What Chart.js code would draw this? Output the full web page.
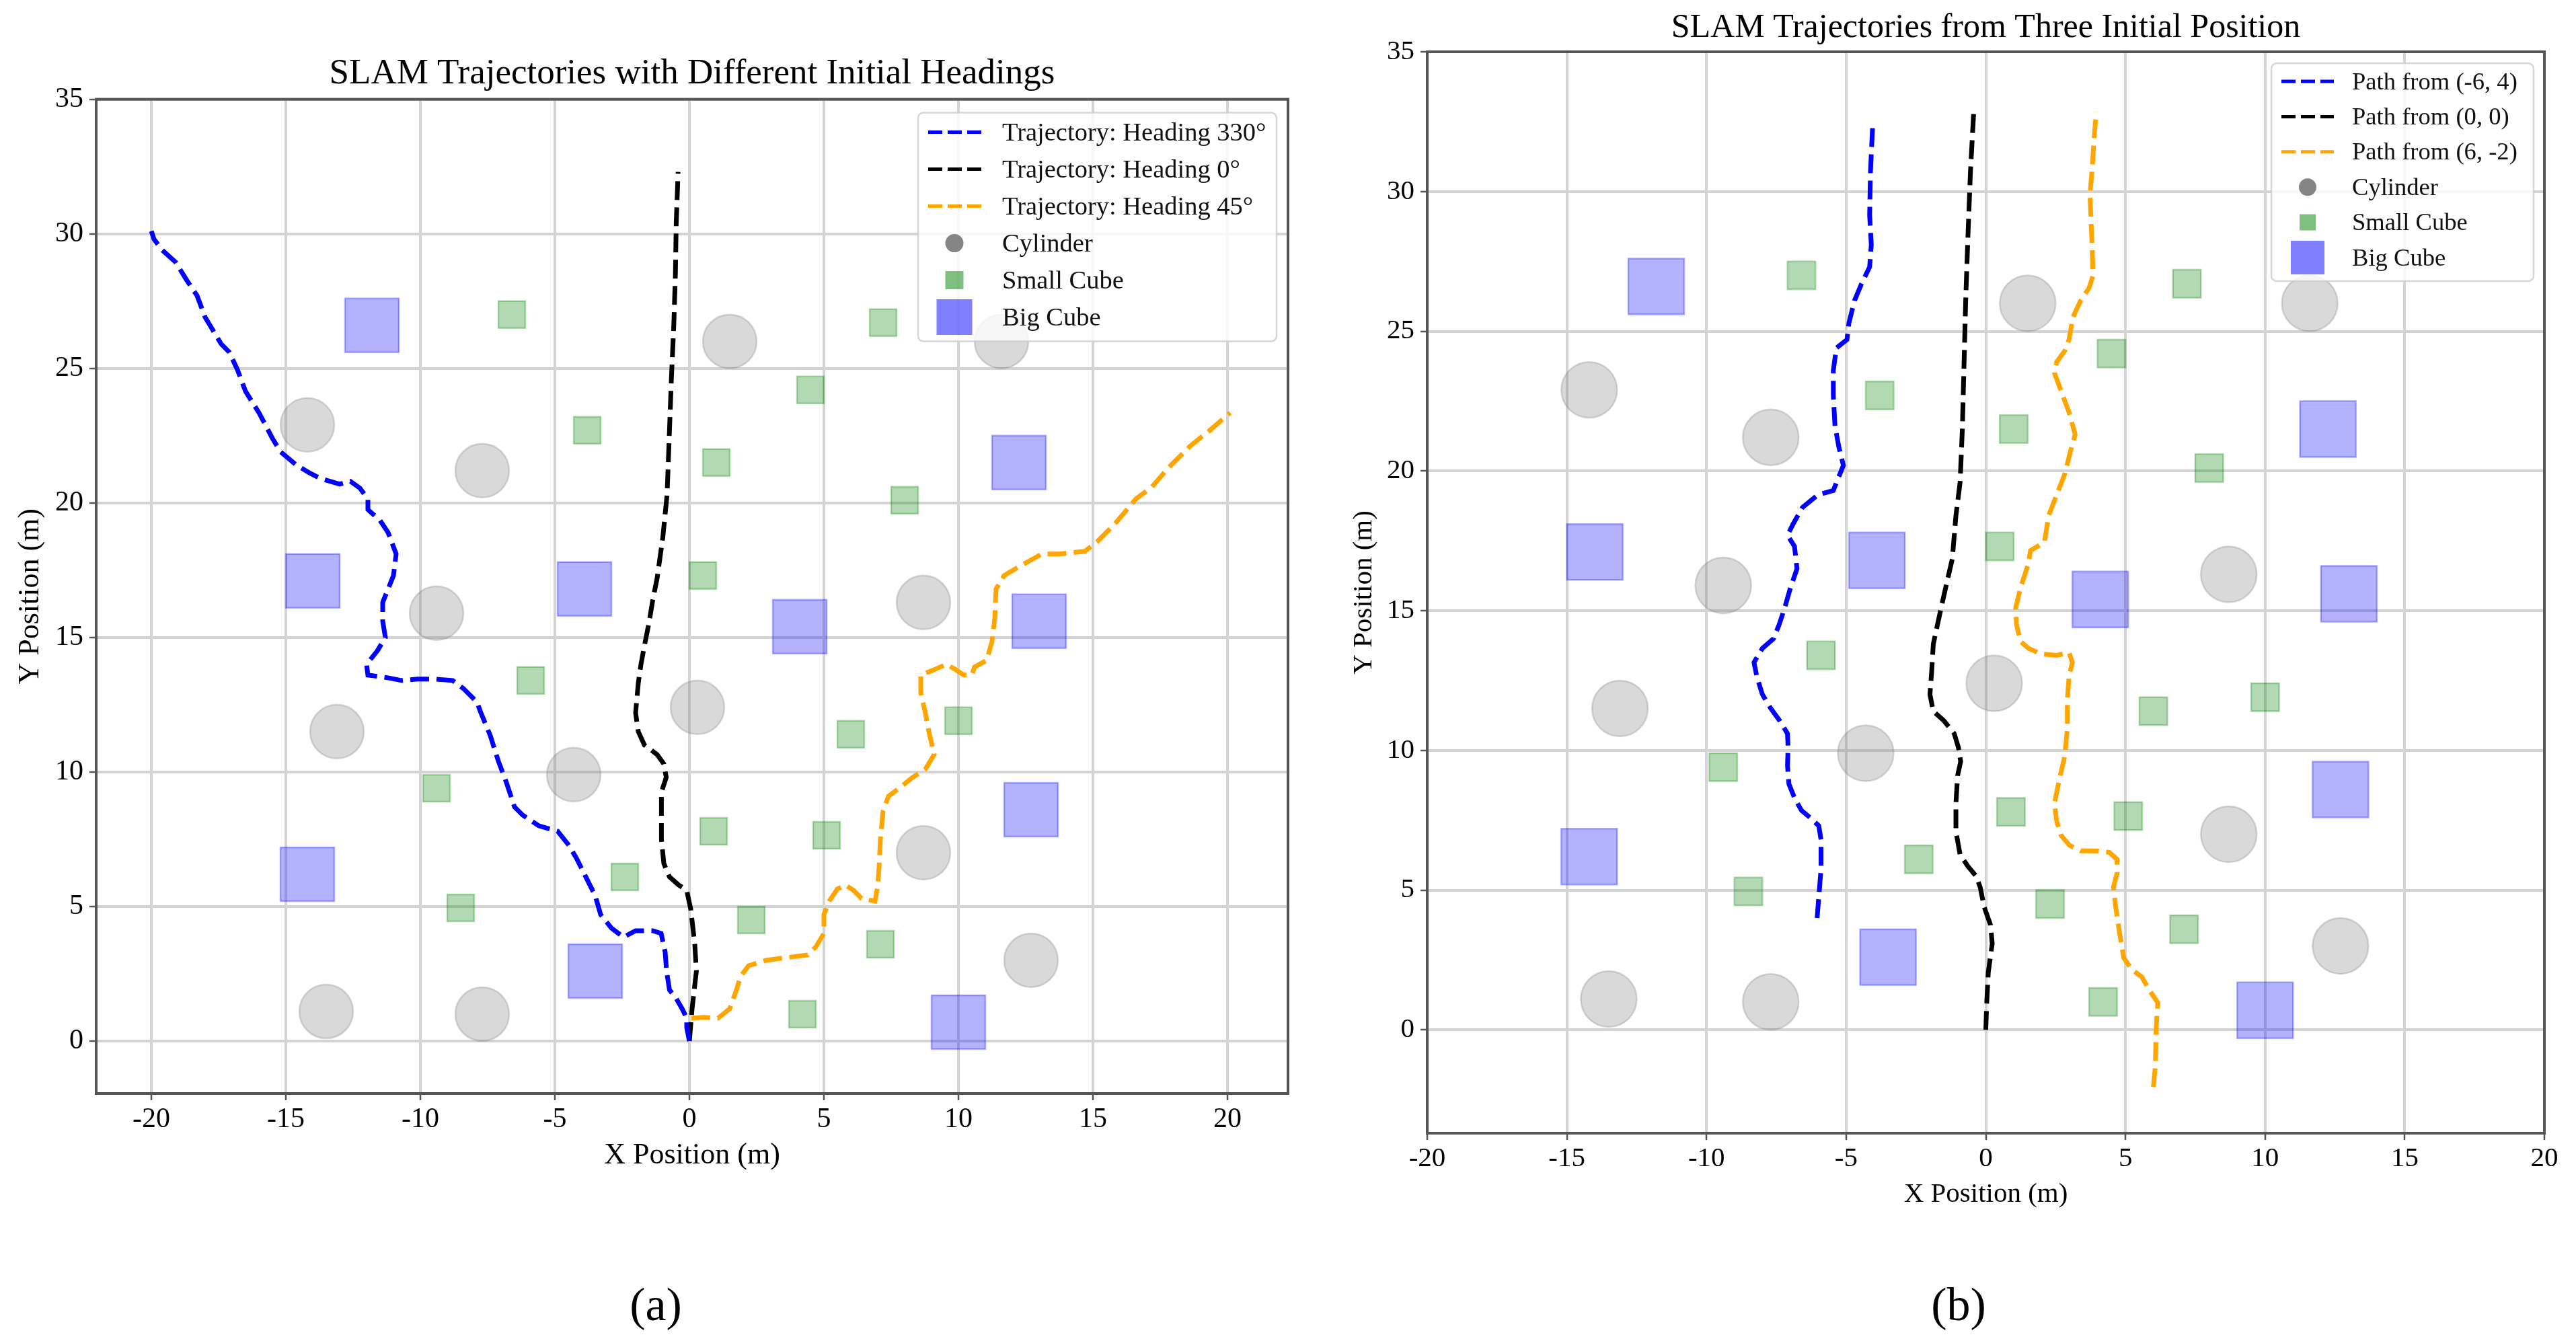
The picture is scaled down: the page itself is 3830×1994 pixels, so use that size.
<!DOCTYPE html>
<html>
<head>
<meta charset="utf-8">
<script src="https://cdn.jsdelivr.net/npm/chart.js@4.4.1/dist/chart.umd.min.js"></script>
<style>
  html, body { margin: 0; padding: 0; background: #fff; }
  body { width: 3830px; height: 1994px; position: relative; overflow: hidden; font-family: 'Liberation Serif', serif; }
  canvas { position: absolute; top: 0; }
  #chartA { left: 0; }
  #chartB { left: 1950px; }
  .cap { position: absolute; top: 1895px; width: 200px; text-align: center; font-size: 70px; line-height: 90px; color: #000; }
</style>
</head>
<body>
<canvas id="chartA" width="1950" height="1800"></canvas>
<canvas id="chartB" width="1880" height="1850"></canvas>
<div class="cap" style="left:875px">(a)</div>
<div class="cap" style="left:2812px">(b)</div>
<script>
// tick values shared by both panels
const xTicks = [-20, -15, -10, -5, 0, 5, 10, 15, 20];
const yTicks = [0, 5, 10, 15, 20, 25, 30, 35];

// obstacle centres (same map in both panels)
const cylinders = [[1.5, 26], [11.6, 26], [-14.2, 22.9], [-7.7, 21.2], [-9.4, 15.9], [8.7, 16.3],
  [-13.1, 11.5], [0.3, 12.4], [-4.3, 9.9], [8.7, 7.0], [12.7, 3.0], [-13.5, 1.1], [-7.7, 1.0]];
const smallCubes = [[-6.6, 27], [7.2, 26.7], [4.5, 24.2], [-3.8, 22.7], [1.0, 21.5], [8.0, 20.1],
  [0.5, 17.3], [-5.9, 13.4], [10.0, 11.9], [6.0, 11.4], [-9.4, 9.4], [0.9, 7.8], [5.1, 7.65],
  [-2.4, 6.1], [-8.5, 4.95], [2.3, 4.5], [7.1, 3.6], [4.2, 1.0]];
const bigCubes = [[-11.8, 26.6], [12.25, 21.5], [-14.0, 17.1], [-3.9, 16.8], [4.1, 15.4],
  [13.0, 15.6], [12.7, 8.6], [-14.2, 6.2], [-3.5, 2.6], [10.0, 0.7]];

// (a) trajectories with different initial headings
const heading330 = [[0, 0], [-0.1, 0.5], [-0.1, 0.85], [-0.27, 1.2], [-0.5, 1.6], [-0.74, 1.9], [-0.85, 2.6],
  [-0.9, 3.3], [-1.05, 4.0], [-1.36, 4.1], [-2.0, 4.1], [-2.45, 3.86], [-2.9, 4.2], [-3.3, 4.7], [-3.5, 5.4],
  [-3.85, 6.1], [-4.2, 6.8], [-4.5, 7.3], [-4.9, 7.8], [-5.6, 8.0], [-6.2, 8.4], [-6.5, 8.7], [-6.8, 9.6],
  [-7.1, 10.4], [-7.4, 11.35], [-7.75, 12.2], [-7.9, 12.6], [-8.4, 13.1], [-8.8, 13.4], [-9.45, 13.45],
  [-10.1, 13.45], [-10.7, 13.4], [-11.2, 13.5], [-11.95, 13.6], [-12.0, 14.0], [-11.6, 14.5], [-11.3, 15.0],
  [-11.4, 15.6], [-11.4, 16.3], [-11.0, 17.3], [-10.9, 18.1], [-11.2, 18.9], [-11.5, 19.35], [-11.95, 19.75],
  [-11.95, 20.15], [-12.25, 20.55], [-12.6, 20.8], [-13.0, 20.7], [-13.7, 20.9], [-14.1, 21.1], [-14.6, 21.4],
  [-15.2, 21.9], [-15.5, 22.4], [-16.0, 23.35], [-16.5, 24.15], [-16.8, 24.95], [-17.1, 25.6], [-17.4, 25.9],
  [-17.7, 26.4], [-18.0, 26.9], [-18.3, 27.7], [-18.7, 28.3], [-19.1, 28.95], [-19.6, 29.4], [-19.9, 29.8],
  [-20.0, 30.1]];
const heading0 = [[0, 0], [0.1, 1.2], [0.26, 2.6], [0.2, 3.6], [0.05, 4.9], [-0.1, 5.6], [-0.4, 5.8],
  [-0.74, 6.1], [-0.95, 6.6], [-1.04, 7.5], [-1.04, 8.55], [-1.04, 9.25], [-0.86, 9.8], [-0.95, 10.3],
  [-1.2, 10.65], [-1.67, 11.0], [-1.9, 11.5], [-2.0, 12.2], [-1.9, 13.3], [-1.8, 14.0], [-1.67, 14.7],
  [-1.5, 15.55], [-1.36, 16.4], [-1.2, 17.2], [-0.99, 18.7], [-0.83, 20.3], [-0.74, 22.7], [-0.67, 24.6],
  [-0.58, 26.6], [-0.52, 28.5], [-0.49, 30.4], [-0.42, 32.3]];
const heading45 = [[0.07, 0.85], [0.5, 0.88], [1.07, 0.85], [1.5, 1.2], [1.75, 1.9], [1.9, 2.4], [2.2, 2.8],
  [2.85, 3.0], [3.6, 3.1], [4.4, 3.2], [4.7, 3.5], [5.0, 4.0], [5.0, 4.7], [5.2, 5.2], [5.5, 5.65], [5.8, 5.8],
  [6.1, 5.6], [6.4, 5.3], [6.9, 5.2], [7.0, 5.75], [7.05, 6.45], [7.1, 7.5], [7.2, 8.55], [7.4, 9.1], [7.8, 9.4],
  [8.3, 9.8], [8.77, 10.1], [9.1, 10.65], [8.9, 11.5], [8.77, 12.2], [8.6, 12.95], [8.6, 13.6], [9.1, 13.8],
  [9.55, 14.0], [9.9, 13.8], [10.2, 13.6], [10.5, 13.6], [10.6, 13.9], [11.05, 14.15], [11.25, 14.85],
  [11.35, 15.7], [11.4, 16.8], [11.7, 17.3], [12.2, 17.6], [12.65, 17.85], [13.1, 18.1], [13.75, 18.1],
  [14.2, 18.15], [14.7, 18.2], [15.15, 18.55], [15.8, 19.2], [16.6, 20.15], [17.2, 20.6], [17.8, 21.3],
  [18.6, 22.1], [19.35, 22.7], [20.1, 23.35]];

// (b) trajectories from three initial positions
const fromMinus6And4 = [[-6.04, 4.0], [-5.98, 4.75], [-5.9, 5.75], [-5.9, 6.8], [-5.98, 7.3], [-6.3, 7.6],
  [-6.6, 7.85], [-6.85, 8.3], [-7.05, 8.8], [-7.1, 9.45], [-7.08, 10.1], [-7.1, 10.6], [-7.37, 11.05],
  [-7.7, 11.5], [-8.0, 12.0], [-8.2, 12.65], [-8.3, 13.15], [-8.0, 13.65], [-7.6, 14.0], [-7.4, 14.5],
  [-7.2, 15.1], [-7.0, 15.8], [-6.76, 16.5], [-6.85, 17.3], [-7.1, 17.7], [-6.9, 18.1], [-6.56, 18.7],
  [-6.0, 19.15], [-5.46, 19.3], [-5.26, 19.8], [-5.1, 20.2], [-5.26, 20.85], [-5.4, 21.6], [-5.46, 22.7],
  [-5.46, 23.6], [-5.35, 24.4], [-4.97, 24.7], [-4.9, 25.3], [-4.7, 26.1], [-4.45, 26.7], [-4.16, 27.3],
  [-4.1, 28.1], [-4.16, 29.15], [-4.13, 30.7], [-4.05, 32.4]];
const from0And0 = [[0, 0], [0.03, 0.9], [0.09, 2.07], [0.23, 3.08], [0.17, 3.75], [-0.06, 4.4], [-0.2, 5.1],
  [-0.35, 5.5], [-0.64, 5.85], [-0.92, 6.27], [-1.07, 7.1], [-1.07, 8.1], [-1.01, 9.1], [-0.9, 9.6],
  [-0.98, 10.1], [-1.13, 10.6], [-1.5, 11.06], [-1.88, 11.4], [-2.0, 12.0], [-1.94, 12.8], [-1.88, 13.8],
  [-1.73, 14.5], [-1.6, 15.1], [-1.42, 15.9], [-1.2, 16.85], [-1.07, 18.4], [-0.92, 19.6], [-0.84, 21.5],
  [-0.78, 23.8], [-0.72, 26.1], [-0.64, 28.4], [-0.55, 30.7], [-0.43, 32.9]];
const from6AndMinus2 = [[6.0, -2.05], [6.07, -1.3], [6.1, 0.05], [6.16, 0.97], [5.87, 1.4], [5.58, 1.9],
  [5.23, 2.15], [4.94, 2.57], [4.8, 3.4], [4.65, 4.4], [4.57, 5.1], [4.7, 5.6], [4.7, 6.1], [4.42, 6.35],
  [4.0, 6.4], [3.4, 6.4], [3.0, 6.6], [2.7, 6.95], [2.54, 7.45], [2.46, 8.1], [2.63, 8.95], [2.83, 9.8],
  [2.92, 10.8], [2.92, 11.8], [2.98, 12.65], [3.1, 13.15], [2.98, 13.5], [2.54, 13.4], [1.97, 13.45],
  [1.53, 13.65], [1.24, 13.9], [1.1, 14.5], [1.07, 15.1], [1.24, 15.8], [1.53, 16.7], [1.6, 17.15],
  [2.1, 17.45], [2.25, 18.4], [2.54, 19.15], [2.83, 19.9], [3.03, 20.7], [3.2, 21.3], [2.98, 22.1],
  [2.7, 22.85], [2.46, 23.5], [2.54, 23.9], [2.83, 24.3], [2.98, 24.7], [3.12, 25.5], [3.4, 26.1],
  [3.7, 26.55], [3.84, 27.0], [3.8, 28.2], [3.73, 29.9], [3.8, 30.7], [3.9, 32.2], [3.96, 32.85]];

const SERIF = "'Liberation Serif', 'Times New Roman', serif";
Chart.defaults.font.family = SERIF;
Chart.defaults.color = '#000';

const pts = arr => arr.map(([x, y]) => ({ x, y }));

// size in pixels of n data units on the x scale
const unitPx = (c, n) => {
  const s = c.chart.scales.x;
  return Math.abs(s.getPixelForValue(n) - s.getPixelForValue(0));
};

function trajectory(label, data, color) {
  return {
    label, data: pts(data), showLine: true, borderColor: color, backgroundColor: color,
    borderWidth: 7, borderDash: [28, 11], pointRadius: 0, tension: 0, fill: false
  };
}

function obstacles(label, data, style, rgb, side, legendColor) {
  return {
    label, data: pts(data), showLine: false, pointStyle: style,
    backgroundColor: `rgba(${rgb},0.3)`, borderColor: `rgba(${rgb},0.3)`, borderWidth: 2.5,
    pointRadius: style === 'circle' ? c => unitPx(c, side / 2) : c => unitPx(c, side) / Math.SQRT2,
    legendColor
  };
}

// matplotlib-like frame + legend box drawn inside the plot area
const frameLegend = {
  id: 'frameLegend',
  afterDatasetsDraw(chart, args, o) {
    const { ctx, chartArea: a } = chart;
    ctx.save();
    ctx.strokeStyle = '#555';
    ctx.lineWidth = 4;
    ctx.strokeRect(a.left, a.top, a.right - a.left, a.bottom - a.top);

    const x0 = a.right - o.inset[0] - o.width, y0 = a.top + o.inset[1];
    ctx.beginPath();
    ctx.roundRect(x0, y0, o.width, o.height, 8);
    ctx.fillStyle = 'rgba(255,255,255,0.8)';
    ctx.fill();
    ctx.strokeStyle = 'rgba(204,204,204,0.8)';
    ctx.lineWidth = 2.5;
    ctx.stroke();

    ctx.font = `${o.font}px ${SERIF}`;
    ctx.textBaseline = 'middle';
    chart.data.datasets.forEach((d, i) => {
      const cy = y0 + o.first + i * o.row;
      if (d.showLine) {
        ctx.beginPath();
        ctx.setLineDash([21, 8]);
        ctx.strokeStyle = d.borderColor;
        ctx.lineWidth = 5;
        ctx.moveTo(x0 + o.lineX[0], cy);
        ctx.lineTo(x0 + o.lineX[1], cy);
        ctx.stroke();
        ctx.setLineDash([]);
      } else {
        const s = o.marks[i - 3], cx = x0 + o.markX;
        ctx.fillStyle = d.legendColor;
        ctx.beginPath();
        if (d.pointStyle === 'circle') ctx.arc(cx, cy, s, 0, Math.PI * 2);
        else ctx.rect(cx - s / 2, cy - s / 2, s, s);
        ctx.fill();
      }
      ctx.fillStyle = '#111';
      ctx.fillText(d.label, x0 + o.textX, cy + 2);
    });
    ctx.restore();
  }
};

function makeChart(id, p) {
  const datasets = [
    trajectory(p.labels[0], p.paths[0], '#0000ff'),
    trajectory(p.labels[1], p.paths[1], '#000000'),
    trajectory(p.labels[2], p.paths[2], '#ffa500'),
    obstacles('Cylinder', cylinders, 'circle', '128,128,128', 2, '#858585'),
    obstacles('Small Cube', smallCubes, 'rect', '0,128,0', 1, 'rgba(0,128,0,0.5)'),
    obstacles('Big Cube', bigCubes, 'rect', '0,0,255', 2, 'rgba(0,0,255,0.5)')
  ];
  const grid = { color: '#d4d4d4', lineWidth: 4, tickColor: '#555', tickWidth: 2.5, tickLength: 10 };
  const tickFont = { family: SERIF, size: p.tickSize };
  const labelFont = { family: SERIF, size: p.labelSize };
  return new Chart(document.getElementById(id), {
    type: 'scatter',
    data: { datasets },
    options: {
      responsive: false,
      devicePixelRatio: 1,
      animation: false,
      events: [],
      layout: { padding: { left: 0, right: p.padRight, top: 0, bottom: 0 } },
      plugins: {
        legend: { display: false },
        tooltip: { enabled: false },
        title: {
          display: true, text: p.title, fullSize: false, color: '#000',
          font: { family: SERIF, size: p.titleSize, weight: 'normal' }, padding: p.titlePad
        },
        frameLegend: p.legend
      },
      scales: {
        x: {
          type: 'linear', min: p.xRange[0], max: p.xRange[1],
          afterBuildTicks: s => { s.ticks = xTicks.map(v => ({ value: v })); },
          afterFit: s => { s.height = p.xAxisHeight; },
          ticks: { font: tickFont, padding: 4, maxRotation: 0, autoSkip: false, color: '#000' },
          grid, border: { display: false },
          title: { display: true, text: 'X Position (m)', font: labelFont, color: '#000',
            padding: { top: 0, bottom: p.xTitlePad } }
        },
        y: {
          type: 'linear', min: p.yRange[0], max: p.yRange[1],
          afterBuildTicks: s => { s.ticks = yTicks.map(v => ({ value: v })); },
          afterFit: s => { s.width = p.yAxisWidth; },
          ticks: { font: tickFont, padding: 9, color: '#000' },
          grid, border: { display: false },
          title: { display: true, text: 'Y Position (m)', font: labelFont, color: '#000',
            padding: { top: p.yTitlePad, bottom: 0 } }
        }
      }
    },
    plugins: [frameLegend]
  });
}

makeChart('chartA', {
  title: 'SLAM Trajectories with Different Initial Headings',
  labels: ['Trajectory: Heading 330°', 'Trajectory: Heading 0°', 'Trajectory: Heading 45°'],
  paths: [heading330, heading0, heading45],
  xRange: [-22.05, 22.25], yRange: [-1.95, 35],
  titleSize: 53, titlePad: { top: 78, bottom: 6 },
  tickSize: 42, labelSize: 44,
  yAxisWidth: 143, xAxisHeight: 174, padRight: 35, xTitlePad: 55, yTitlePad: 19,
  legend: { width: 533, height: 340, inset: [17, 20], first: 29, row: 55, lineX: [15, 94],
    markX: 54, textX: 125, font: 38.5, marks: [13.5, 27, 53] }
});

makeChart('chartB', {
  title: 'SLAM Trajectories from Three Initial Position',
  labels: ['Path from (-6, 4)', 'Path from (0, 0)', 'Path from (6, -2)'],
  paths: [fromMinus6And4, from0And0, from6AndMinus2],
  xRange: [-20, 20], yRange: [-3.7, 35],
  titleSize: 50, titlePad: { top: 12, bottom: 5 },
  tickSize: 41, labelSize: 41,
  yAxisWidth: 172, xAxisHeight: 165, padRight: 47, xTitlePad: 49, yTitlePad: 54,
  legend: { width: 390, height: 324, inset: [16, 17], first: 27, row: 52.4, lineX: [15, 93],
    markX: 54, textX: 120, font: 36.6, marks: [13, 24, 50] }
});
</script>
</body>
</html>
